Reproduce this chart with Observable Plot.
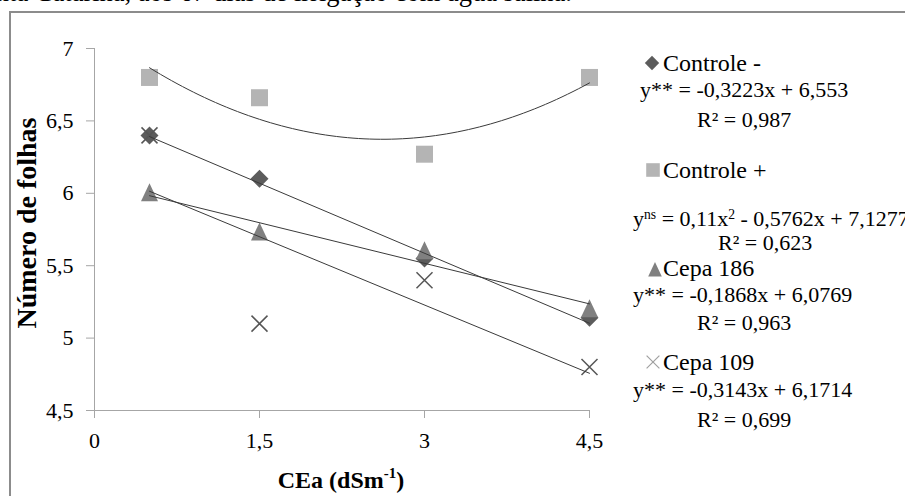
<!DOCTYPE html>
<html>
<head>
<meta charset="utf-8">
<script src="https://cdn.jsdelivr.net/npm/d3@7"></script>
<script src="https://cdn.jsdelivr.net/npm/@observablehq/plot@0.6"></script>
<style>
  html, body { margin: 0; padding: 0; background: #fff; }
  #page { position: relative; width: 905px; height: 496px; overflow: hidden;
          font-family: "Liberation Serif", serif; color: #000; }
  #page div { font-family: "Liberation Serif", serif; }
  #page svg text { font-family: "Liberation Serif", serif !important; }
  #caption { position: absolute; right: 333px; top: -21px; font-size: 26.5px; line-height: 27px; white-space: nowrap; }
  #frame { position: absolute; left: 9px; top: 11px; width: 1200px; height: 1200px;
           border: 2px solid #8c8c8c; box-sizing: border-box; }
  #chart { position: absolute; left: 0; top: 0; }
  .leg { position: absolute; white-space: nowrap; line-height: 1; }
  .name { font-size: 24px; }
  .eq { font-size: 22px; }
  .leg sup { font-size: 62%; line-height: 0; vertical-align: 0; position: relative; top: -0.55em; }
  .sym { position: absolute; }
  .ytitle { position: absolute; font-weight: bold; font-size: 28px; white-space: nowrap; line-height: 1;
            transform: translate(-50%, -50%) rotate(-90deg); }
  .xtitle { position: absolute; font-weight: bold; font-size: 24px; white-space: nowrap; line-height: 1;
            transform: translate(-50%, -50%); }
</style>
</head>
<body>
<div id="page">
  <div id="caption">Santa Catarina, aos 67 dias de irrigação com água salina.</div>
  <div id="frame"></div>
  <div id="chart"></div>
</div>
<script>
// Electrical conductivity of irrigation water (dS m-1)
const doses = [0.5, 1.5, 3, 4.5];

// Leaf number per treatment at each conductivity
const controleNeg = [6.4, 6.1, 5.55, 5.14];
const controlePos = [6.8, 6.66, 6.27, 6.8];
const cepa186 = [6.0, 5.73, 5.6, 5.2];
const cepa109 = [6.4, 5.1, 5.4, 4.8];

const seriesNames = ["Controle -", "Controle +", "Cepa 186", "Cepa 109"];

// Fitted regressions y = a·x² + b·x + c, as reported for each treatment
const fitA = [0, 0.11, 0, 0];
const fitB = [-0.3223, -0.5762, -0.1868, -0.3143];
const fitC = [6.553, 7.1277, 6.0769, 6.1714];
const fitR2 = ["0,987", "0,623", "0,963", "0,699"];
const fitSig = ["**", "ns", "**", "**"];

// Axis ticks
const xTicks = [0, 1.5, 3, 4.5];
const xTickLabels = ["0", "1,5", "3", "4,5"];
const yTicks = [4.5, 5, 5.5, 6, 6.5, 7];
const yTickLabels = ["4,5", "5", "5,5", "6", "6,5", "7"];

const values = [controleNeg, controlePos, cepa186, cepa109];
const points = [];
values.forEach((vals, i) => vals.forEach((v, j) => points.push({series: seriesNames[i], x: doses[j], y: v})));

// Regression curves sampled over the measured conductivity range
const curves = [];
seriesNames.forEach((name, i) => {
  const xs = fitA[i] === 0 ? [doses[0], doses[doses.length - 1]]
                           : d3.range(doses[0], doses[doses.length - 1] + 1e-9, 0.05);
  xs.forEach(x => curves.push({series: name, x, y: fitA[i] * x * x + fitB[i] * x + fitC[i]}));
});

// Marker shapes
const diamondSym = {draw(c) { const h = 9; c.moveTo(0, -h); c.lineTo(h, 0); c.lineTo(0, h); c.lineTo(-h, 0); c.closePath(); }};
const squareSym = {draw(c) { const h = 8.5; c.moveTo(-h, -h); c.lineTo(h, -h); c.lineTo(h, h); c.lineTo(-h, h); c.closePath(); }};
const triangleSym = {draw(c) { c.moveTo(0, -10); c.lineTo(8.5, 8); c.lineTo(-8.5, 8); c.closePath(); }};
const timesSym = {draw(c) { const h = 8; c.moveTo(-h, -h); c.lineTo(h, h); c.moveTo(h, -h); c.lineTo(-h, h); }};

const markStyle = {
  "Controle -": {symbol: diamondSym, fill: "#5c5c5c"},
  "Controle +": {symbol: squareSym, fill: "#b4b4b4"},
  "Cepa 186": {symbol: triangleSym, fill: "#808080"},
  "Cepa 109": {symbol: timesSym, stroke: "#555555", strokeWidth: 1.5}
};

const axisColor = "#a6a6a6";
const serif = "Liberation Serif";

const chart = Plot.plot({
  width: 905,
  height: 496,
  marginLeft: 94,
  marginRight: 316,
  marginTop: 48,
  marginBottom: 86,
  style: {fontFamily: serif, background: "transparent", color: "#000"},
  x: {domain: [0, 4.5]},
  y: {domain: [4.5, 7]},
  marks: [
    Plot.ruleX([0], {stroke: axisColor, strokeWidth: 1}),
    Plot.ruleY([4.5], {stroke: axisColor, strokeWidth: 1}),
    Plot.axisX(xTicks, {tickSize: 8, tickPadding: 14, stroke: axisColor, fill: "#000", fontSize: 22, fontFamily: serif, label: null,
      tickFormat: d => xTickLabels[xTicks.indexOf(d)]}),
    Plot.axisY(yTicks, {tickSize: 8, tickPadding: 13, stroke: axisColor, fill: "#000", fontSize: 22, fontFamily: serif, label: null,
      tickFormat: d => yTickLabels[yTicks.indexOf(d)]}),
    ...seriesNames.map(name => Plot.dot(points.filter(p => p.series === name), {
      x: "x", y: "y", r: 8, ...markStyle[name]
    })),
    Plot.line(curves, {x: "x", y: "y", z: "series", stroke: "#3a3a3a", strokeWidth: 1, curve: "linear"})
  ]
});
document.getElementById("chart").appendChild(chart);

const page = document.getElementById("page");

// Axis titles
const yt = document.createElement("div");
yt.className = "ytitle"; yt.textContent = "Número de folhas";
yt.style.left = "27px"; yt.style.top = "223px";
page.appendChild(yt);
const xt = document.createElement("div");
xt.className = "xtitle"; xt.innerHTML = "CEa (dSm<sup style='font-size:62%;position:relative;top:-0.1em'>-1</sup>)";
xt.style.left = "341px"; xt.style.top = "479px";
page.appendChild(xt);

// Legend with regression equations
function fmt(v) { return String(Math.abs(v)).replace(".", ","); }
function equation(i) {
  const sig = fitSig[i] === "ns" ? "<sup>ns</sup>" : "**";
  let s = "y" + sig + " = ";
  if (fitA[i] !== 0) {
    s += fmt(fitA[i]) + "x<sup>2</sup> " + (fitB[i] < 0 ? "- " : "+ ") + fmt(fitB[i]) + "x + " + fmt(fitC[i]);
  } else {
    s += (fitB[i] < 0 ? "-" : "") + fmt(fitB[i]) + "x + " + fmt(fitC[i]);
  }
  return s;
}
function addText(html, cls, left, cy) {
  const d = document.createElement("div");
  d.className = "leg " + cls;
  d.innerHTML = html;
  d.style.left = left + "px";
  d.style.top = (cy - (cls === "name" ? 12 : 11)) + "px";
  page.appendChild(d);
}
function addSymbol(name, cx, cy) {
  const ns = "http://www.w3.org/2000/svg";
  const svg = document.createElementNS(ns, "svg");
  svg.setAttribute("width", 20); svg.setAttribute("height", 20);
  svg.setAttribute("class", "sym");
  svg.style.left = (cx - 10) + "px"; svg.style.top = (cy - 10) + "px";
  const p = document.createElementNS(ns, "path");
  const st = markStyle[name];
  const path = d3.path();
  const scale = 0.8;
  st.symbol.draw({
    moveTo: (x, y) => path.moveTo(10 + x * scale, 10 + y * scale),
    lineTo: (x, y) => path.lineTo(10 + x * scale, 10 + y * scale),
    closePath: () => path.closePath()
  });
  p.setAttribute("d", path.toString());
  if (st.fill) p.setAttribute("fill", st.fill); else { p.setAttribute("fill", "none"); p.setAttribute("stroke", "#a0a0a0"); p.setAttribute("stroke-width", 1.2); }
  svg.appendChild(p);
  page.appendChild(svg);
}

const legendRows = [
  {sym: [652, 63], name: [663, 63], eq: [640, 90], r2: [697, 120]},
  {sym: [653, 170], name: [663, 170], eq: [633, 219], r2: [718, 243]},
  {sym: [655, 270], name: [663, 268], eq: [633, 295], r2: [697, 323]},
  {sym: [653, 362], name: [663, 362], eq: [633, 390], r2: [697, 420]}
];
seriesNames.forEach((name, i) => {
  const L = legendRows[i];
  addSymbol(name, L.sym[0], L.sym[1]);
  addText(name, "name", L.name[0], L.name[1]);
  addText(equation(i), "eq", L.eq[0], L.eq[1]);
  addText("R² = " + fitR2[i], "eq", L.r2[0], L.r2[1]);
});
</script>
</body>
</html>
